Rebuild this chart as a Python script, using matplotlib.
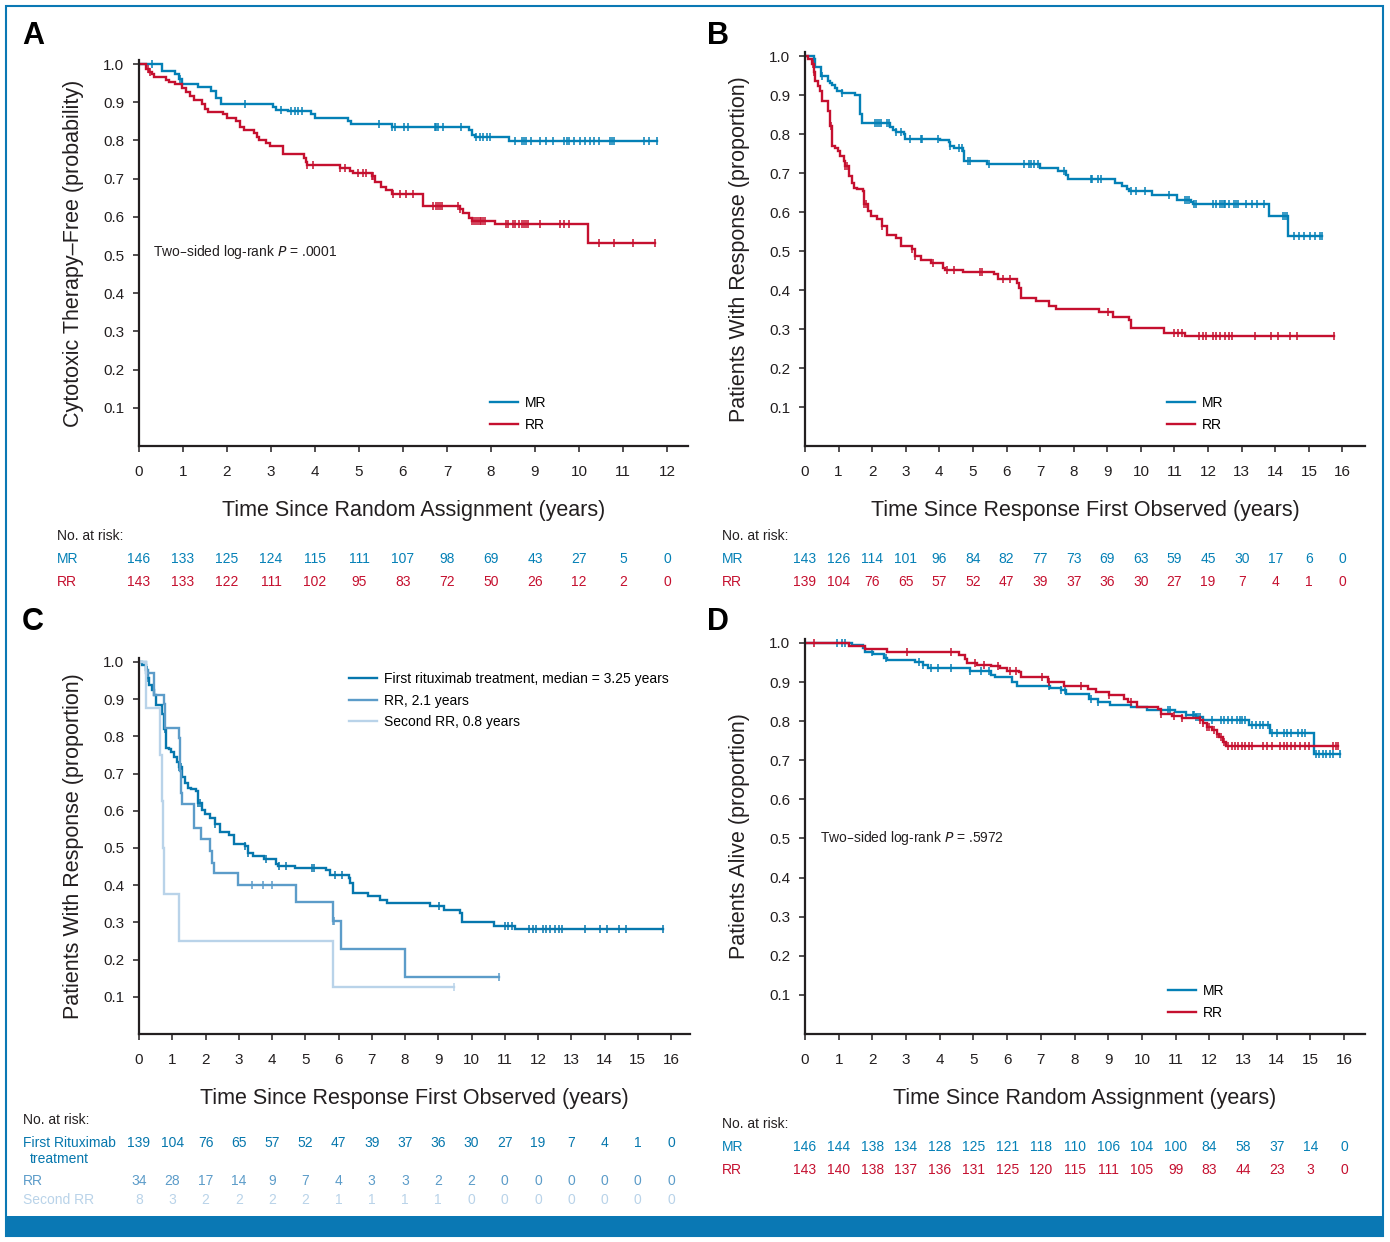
import numpy as np
import matplotlib.pyplot as plt
from matplotlib.transforms import blended_transform_factory
from matplotlib.patches import Rectangle

plt.rcParams["font.family"] = ["Liberation Sans", "DejaVu Sans"]

BLUE = "#0480b6"
RED = "#c5102f"
C1 = "#0677ad"
C2 = "#5c9cc9"
C3 = "#b9d3e9"
FRAME = "#0a78b4"
INK = "#231f20"

# ---- panel A: cytotoxic therapy free, MR vs RR ----
a_mr_t = [0, 0.53, 0.81, 0.90, 0.98, 1.34, 1.64, 1.75, 1.86, 3.05, 3.11, 3.38, 3.91, 4.01,
          4.74, 4.82, 5.74, 7.49, 7.57, 7.64, 8.40]
a_mr_s = [1.0, 0.982, 0.974, 0.962, 0.947, 0.940, 0.930, 0.912, 0.896, 0.888, 0.881, 0.877,
          0.868, 0.858, 0.851, 0.842, 0.836, 0.827, 0.815, 0.809, 0.798]
a_mr_end = 11.77
a_mr_cens = [0.29, 0.94, 2.40, 3.22, 3.46, 3.54, 3.62, 3.71, 5.46, 5.74, 5.82, 6.03, 6.11, 6.72,
             6.76, 6.80, 6.92, 7.33, 7.65, 7.74, 7.82, 7.90, 7.98, 8.55, 8.71, 8.75, 8.79, 8.92,
             9.12, 9.24, 9.41, 9.65, 9.73, 9.77, 9.89, 10.02, 10.14, 10.26, 10.34, 10.46, 10.71,
             10.75, 10.79, 11.48, 11.60, 11.77]
a_rr_t = [0, 0.16, 0.23, 0.29, 0.33, 0.61, 0.69, 0.81, 0.98, 1.06, 1.16, 1.26, 1.43, 1.51, 1.56,
          1.91, 2.00, 2.20, 2.30, 2.38, 2.61, 2.69, 2.73, 2.89, 2.97, 3.27, 3.75, 3.79, 3.83,
          4.56, 4.80, 4.87, 5.29, 5.37, 5.50, 5.62, 5.74, 6.45, 7.29, 7.37, 7.49, 7.57, 8.10,
          10.20]
a_rr_s = [1.0, 0.987, 0.980, 0.974, 0.967, 0.959, 0.952, 0.947, 0.938, 0.927, 0.917, 0.906,
          0.895, 0.883, 0.874, 0.868, 0.859, 0.851, 0.836, 0.827, 0.820, 0.809, 0.801, 0.794,
          0.786, 0.765, 0.754, 0.743, 0.736, 0.728, 0.719, 0.715, 0.706, 0.692, 0.679, 0.670,
          0.660, 0.628, 0.620, 0.609, 0.596, 0.590, 0.581, 0.532]
a_rr_end = 11.73
a_rr_cens = [0.20, 0.24, 3.83, 3.95, 4.56, 4.68, 4.97, 5.09, 5.17, 5.29, 5.33, 5.78, 5.94, 6.07,
             6.23, 6.68, 6.76, 6.80, 6.84, 6.88, 7.25, 7.29, 7.57, 7.61, 7.65, 7.70, 7.74, 7.78,
             7.82, 7.86, 8.35, 8.39, 8.51, 8.55, 8.63, 8.71, 8.75, 8.79, 8.84, 9.12, 9.57, 9.65,
             9.77, 10.46, 10.79, 11.24, 11.73]
a_years = list(range(0, 13))
a_risk_mr = [146, 133, 125, 124, 115, 111, 107, 98, 69, 43, 27, 5, 0]
a_risk_rr = [143, 133, 122, 111, 102, 95, 83, 72, 50, 26, 12, 2, 0]

# ---- panel B: response duration, MR vs RR ----
b_mr_t = [0, 0.26, 0.31, 0.49, 0.70, 0.76, 0.80, 0.89, 0.94, 1.09, 1.49, 1.64, 1.70, 2.53, 2.61,
          2.71, 2.95, 2.97, 4.01, 4.28, 4.33, 4.43, 4.69, 4.74, 5.42, 6.99, 7.54, 7.77, 7.82,
          9.23, 9.44, 9.59, 9.65, 10.32, 11.08, 11.50, 11.54, 13.82, 14.39]
b_mr_s = [1.0, 0.992, 0.971, 0.949, 0.937, 0.932, 0.925, 0.919, 0.911, 0.905, 0.900, 0.851,
          0.828, 0.819, 0.811, 0.805, 0.799, 0.788, 0.785, 0.780, 0.769, 0.763, 0.757, 0.731,
          0.722, 0.714, 0.705, 0.694, 0.686, 0.675, 0.667, 0.658, 0.654, 0.643, 0.632, 0.626,
          0.621, 0.590, 0.538]
b_mr_end = 15.38
b_mr_cens = [0.28, 0.52, 1.09, 2.09, 2.14, 2.19, 2.26, 2.45, 2.50, 2.71, 2.87, 3.13, 3.44, 3.49,
             3.96, 4.33, 4.59, 4.66, 4.85, 4.90, 5.47, 6.52, 6.67, 6.73, 6.83, 6.93, 7.72, 8.50,
             8.55, 8.71, 8.81, 9.70, 9.85, 10.11, 10.84, 11.31, 11.37, 11.42, 11.57, 11.63, 12.15,
             12.25, 12.36, 12.41, 12.46, 12.51, 12.62, 12.77, 12.83, 12.88, 13.14, 13.30, 13.45,
             13.66, 14.23, 14.29, 14.34, 14.55, 14.70, 14.86, 15.02, 15.17, 15.33, 15.38]
b_rr_t = [0, 0.10, 0.21, 0.26, 0.31, 0.39, 0.45, 0.52, 0.70, 0.76, 0.80, 0.89, 0.97, 1.04, 1.15,
          1.20, 1.30, 1.39, 1.46, 1.56, 1.72, 1.77, 1.88, 1.98, 2.14, 2.29, 2.45, 2.71, 2.87,
          3.18, 3.28, 3.44, 3.75, 4.12, 4.17, 4.69, 5.63, 5.74, 6.31, 6.36, 6.43, 6.88, 7.25,
          7.46, 8.76, 9.18, 9.65, 9.70, 10.69, 11.31]
b_rr_s = [1.0, 0.992, 0.979, 0.958, 0.937, 0.924, 0.911, 0.885, 0.859, 0.821, 0.769, 0.765,
          0.757, 0.744, 0.731, 0.718, 0.692, 0.675, 0.662, 0.658, 0.654, 0.620, 0.602, 0.590,
          0.581, 0.564, 0.542, 0.534, 0.512, 0.504, 0.487, 0.478, 0.470, 0.457, 0.452, 0.446,
          0.440, 0.428, 0.418, 0.405, 0.380, 0.371, 0.360, 0.351, 0.343, 0.332, 0.324, 0.302,
          0.291, 0.281]
b_rr_end = 15.75
b_rr_cens = [0.24, 0.28, 0.78, 1.20, 1.25, 1.77, 1.82, 2.29, 3.18, 3.28, 3.81, 4.22, 4.43, 5.21,
             5.27, 5.89, 6.10, 9.02, 11.00, 11.10, 11.21, 11.73, 11.84, 11.94, 12.15, 12.25,
             12.36, 12.51, 12.62, 12.72, 13.40, 13.87, 14.08, 14.44, 14.65, 15.75]
b_years = list(range(0, 17))
b_risk_mr = [143, 126, 114, 101, 96, 84, 82, 77, 73, 69, 63, 59, 45, 30, 17, 6, 0]
b_risk_rr = [139, 104, 76, 65, 57, 52, 47, 39, 37, 36, 30, 27, 19, 7, 4, 1, 0]

# ---- panel C: response after first / repeated rituximab ----
# first rituximab treatment is the same cohort as the RR arm of panel B
c_rr_t = [0, 0.22, 0.45, 0.75, 0.79, 1.19, 1.24, 1.27, 1.29, 1.65, 1.86, 2.13, 2.19, 2.26, 2.98,
          4.72, 5.82, 6.06, 8.00]
c_rr_s = [1.0, 0.970, 0.912, 0.886, 0.823, 0.796, 0.707, 0.648, 0.617, 0.555, 0.523, 0.492,
          0.460, 0.432, 0.400, 0.355, 0.304, 0.228, 0.152]
c_rr_end = 10.83
c_rr_cens = [0.27, 3.39, 3.72, 3.99, 5.83, 5.87, 10.83]
c_2nd_t = [0, 0.22, 0.63, 0.68, 0.72, 0.75, 1.21, 5.82]
c_2nd_s = [1.0, 0.875, 0.750, 0.625, 0.500, 0.375, 0.250, 0.125]
c_2nd_end = 9.48
c_2nd_cens = [9.48]
c_risk_first = [139, 104, 76, 65, 57, 52, 47, 39, 37, 36, 30, 27, 19, 7, 4, 1, 0]
c_risk_rr = [34, 28, 17, 14, 9, 7, 4, 3, 3, 2, 2, 0, 0, 0, 0, 0, 0]
c_risk_2nd = [8, 3, 2, 2, 2, 2, 1, 1, 1, 1, 0, 0, 0, 0, 0, 0, 0]

# ---- panel D: overall survival, MR vs RR ----
d_mr_t = [0, 1.41, 1.72, 1.77, 2.03, 2.34, 2.43, 3.28, 3.49, 3.65, 4.90, 5.52, 5.63, 6.15, 6.30,
          7.26, 7.60, 7.76, 8.44, 8.70, 9.06, 9.69, 10.16, 10.99, 11.30, 11.61, 11.82, 13.18,
          13.80, 15.10]
d_mr_s = [1.0, 0.995, 0.986, 0.978, 0.972, 0.961, 0.957, 0.951, 0.944, 0.935, 0.927, 0.919,
          0.912, 0.901, 0.891, 0.884, 0.879, 0.870, 0.857, 0.850, 0.842, 0.836, 0.828, 0.823,
          0.816, 0.811, 0.802, 0.789, 0.770, 0.715]
d_mr_end = 15.89
d_mr_cens = [0.94, 1.09, 1.20, 1.98, 2.40, 3.39, 3.49, 3.75, 3.96, 4.32, 4.90, 5.21, 5.47, 7.24,
             7.60, 7.71, 8.49, 8.70, 10.78, 10.83, 11.30, 11.51, 11.56, 11.61, 11.67, 11.72,
             12.08, 12.34, 12.45, 12.55, 12.66, 12.81, 12.92, 12.97, 13.07, 13.28, 13.39, 13.49,
             13.59, 13.75, 13.85, 14.01, 14.22, 14.32, 14.43, 14.64, 14.74, 14.84, 15.16, 15.26,
             15.36, 15.47, 15.57, 15.68, 15.89]
d_rr_t = [0, 1.30, 1.77, 2.43, 4.58, 4.74, 4.82, 5.10, 5.52, 5.78, 5.99, 6.35, 6.41, 7.22, 7.68,
          8.41, 8.65, 9.01, 9.48, 9.58, 9.84, 10.47, 10.57, 10.89, 11.20, 11.72, 11.82, 11.93,
          12.08, 12.24, 12.29, 12.40, 12.50]
d_rr_s = [1.0, 0.993, 0.985, 0.978, 0.968, 0.958, 0.948, 0.944, 0.942, 0.935, 0.927, 0.925,
          0.912, 0.900, 0.890, 0.881, 0.874, 0.866, 0.857, 0.849, 0.836, 0.832, 0.819, 0.813,
          0.808, 0.802, 0.794, 0.785, 0.777, 0.768, 0.760, 0.747, 0.737]
d_rr_end = 15.83
d_rr_cens = [0.28, 3.02, 4.32, 5.05, 5.31, 5.73, 6.09, 6.25, 7.03, 7.24, 8.18, 9.01, 9.69, 10.57,
             10.94, 11.20, 11.72, 11.82, 11.93, 11.98, 12.14, 12.24, 12.34, 12.45, 12.55, 12.66,
             12.76, 12.86, 12.97, 13.07, 13.18, 13.28, 13.59, 13.70, 13.85, 14.11, 14.22, 14.32,
             14.43, 14.53, 14.69, 14.84, 14.95, 15.68, 15.76, 15.83]
d_risk_mr = [146, 144, 138, 134, 128, 125, 121, 118, 110, 106, 104, 100, 84, 58, 37, 14, 0]
d_risk_rr = [143, 140, 138, 137, 136, 131, 125, 120, 115, 111, 105, 99, 83, 44, 23, 3, 0]


def km(ax, t, s, end, cens, color, label=None, lw=1.7):
    ax.step(list(t) + [end], list(s) + [s[-1]], where="post", color=color, lw=lw,
            label=label, solid_joinstyle="miter")
    idx = np.searchsorted(t, cens, side="right") - 1
    ax.plot(cens, np.asarray(s)[idx], ls="none", marker="|", ms=6, mew=1.1, color=color)


def setup(ax, xmax, years, xlabel, ylabel):
    ax.set_xlim(0, xmax)
    ax.set_ylim(0, 1.01)
    ax.spines[["top", "right"]].set_visible(False)
    for sp in ("left", "bottom"):
        ax.spines[sp].set_linewidth(1.6)
        ax.spines[sp].set_color(INK)
    yt = [round(0.1 * i, 1) for i in range(1, 11)]
    ax.set_yticks(yt, [f"{v:.1f}" for v in yt])
    ax.set_xticks(years, [str(y) for y in years])
    ax.tick_params(axis="both", labelsize=11, length=4.5, width=1.1, color=INK,
                   labelcolor=INK, direction="out")
    ax.tick_params(axis="y", pad=6)
    ax.tick_params(axis="x", pad=9)
    ax.set_xlabel(xlabel, fontsize=15.5, color=INK, labelpad=15)
    ax.set_ylabel(ylabel, fontsize=15.5, color=INK, labelpad=14)


def risk_row(fig, ax, ypix, years, values, color):
    tr = blended_transform_factory(ax.transData, fig.transFigure)
    for x, v in zip(years, values):
        ax.text(x, 1 - ypix / 1242, str(v), transform=tr, ha="center", va="center",
                fontsize=10, color=color, clip_on=False)


def fig_text(fig, xpix, ypix, s, **kw):
    kw.setdefault("fontsize", 10)
    kw.setdefault("color", INK)
    fig.text(xpix / 1390, 1 - ypix / 1242, s, ha="left", va="center", **kw)


def legend(ax, fig, xpix, ypix):
    ax.legend(loc="upper left", bbox_to_anchor=(xpix / 1390, 1 - ypix / 1242),
              bbox_transform=fig.transFigure, frameon=False, fontsize=10, handlelength=2.0,
              handletextpad=0.55, labelspacing=0.55, borderpad=0)


fig = plt.figure(figsize=(13.9, 12.42), dpi=100)

axA = fig.add_axes([0.1, 0.6409, 0.395, 0.3106])
axB = fig.add_axes([0.5791, 0.6409, 0.4029, 0.3171])
axC = fig.add_axes([0.1, 0.1675, 0.3964, 0.3025])
axD = fig.add_axes([0.5791, 0.1675, 0.4029, 0.318])

# A
km(axA, a_mr_t, a_mr_s, a_mr_end, a_mr_cens, BLUE, "MR")
km(axA, a_rr_t, a_rr_s, a_rr_end, a_rr_cens, RED, "RR")
setup(axA, 12.48, a_years, "Time Since Random Assignment (years)",
      "Cytotoxic Therapy\u2013Free (probability)")
axA.text(0.026, 0.502, "Two\u2013sided log-rank $\\it{P}$ = .0001", transform=axA.transAxes,
         fontsize=10, color=INK, va="center")
legend(axA, fig, 483, 389)

# B
km(axB, b_mr_t, b_mr_s, b_mr_end, b_mr_cens, BLUE, "MR")
km(axB, b_rr_t, b_rr_s, b_rr_end, b_rr_cens, RED, "RR")
setup(axB, 16.67, b_years, "Time Since Response First Observed (years)",
      "Patients With Response (proportion)")
legend(axB, fig, 1160, 389)

# C
km(axC, b_rr_t, b_rr_s, b_rr_end, b_rr_cens, C1, "First rituximab treatment, median = 3.25 years")
km(axC, c_rr_t, c_rr_s, c_rr_end, c_rr_cens, C2, "RR, 2.1 years")
km(axC, c_2nd_t, c_2nd_s, c_2nd_end, c_2nd_cens, C3, "Second RR, 0.8 years")
setup(axC, 16.57, b_years, "Time Since Response First Observed (years)",
      "Patients With Response (proportion)")
legend(axC, fig, 342, 665)

# D
km(axD, d_mr_t, d_mr_s, d_mr_end, d_mr_cens, BLUE, "MR")
km(axD, d_rr_t, d_rr_s, d_rr_end, d_rr_cens, RED, "RR")
setup(axD, 16.62, b_years, "Time Since Random Assignment (years)",
      "Patients Alive (proportion)")
axD.text(0.026, 0.497, "Two\u2013sided log-rank $\\it{P}$ = .5972", transform=axD.transAxes,
         fontsize=10, color=INK, va="center")
legend(axD, fig, 1161, 977)

# panel letters
for xp, yp, letter in [(22, 36, "A"), (707, 36, "B"), (22, 622, "C"), (707, 622, "D")]:
    fig_text(fig, xp, yp, letter, fontsize=22, fontweight="bold", color="black")

# risk tables
fig_text(fig, 57, 536, "No. at risk:")
fig_text(fig, 57, 559, "MR", color=BLUE)
fig_text(fig, 57, 582, "RR", color=RED)
risk_row(fig, axA, 559, a_years, a_risk_mr, BLUE)
risk_row(fig, axA, 582, a_years, a_risk_rr, RED)

fig_text(fig, 722, 536, "No. at risk:")
fig_text(fig, 722, 559, "MR", color=BLUE)
fig_text(fig, 722, 582, "RR", color=RED)
risk_row(fig, axB, 559, b_years, b_risk_mr, BLUE)
risk_row(fig, axB, 582, b_years, b_risk_rr, RED)

fig_text(fig, 23, 1120, "No. at risk:")
fig_text(fig, 23, 1143, "First Rituximab", color=C1)
fig_text(fig, 30, 1159, "treatment", color=C1)
fig_text(fig, 23, 1181, "RR", color=C2)
fig_text(fig, 23, 1200, "Second RR", color=C3)
risk_row(fig, axC, 1143, b_years, c_risk_first, C1)
risk_row(fig, axC, 1181, b_years, c_risk_rr, C2)
risk_row(fig, axC, 1200, b_years, c_risk_2nd, C3)

fig_text(fig, 722, 1124, "No. at risk:")
fig_text(fig, 722, 1147, "MR", color=BLUE)
fig_text(fig, 722, 1170, "RR", color=RED)
risk_row(fig, axD, 1147, b_years, d_risk_mr, BLUE)
risk_row(fig, axD, 1170, b_years, d_risk_rr, RED)

# journal frame and bottom band
fig.patches.append(Rectangle((6 / 1390, 1 - 1236 / 1242), 1377 / 1390, 1230 / 1242,
                             transform=fig.transFigure, fill=False, ec=FRAME, lw=1.5))
fig.patches.append(Rectangle((6 / 1390, 1 - 1236 / 1242), 1377 / 1390, 20 / 1242,
                             transform=fig.transFigure, fc=FRAME, ec=FRAME, lw=0))

fig.savefig("out.png", dpi=100)
